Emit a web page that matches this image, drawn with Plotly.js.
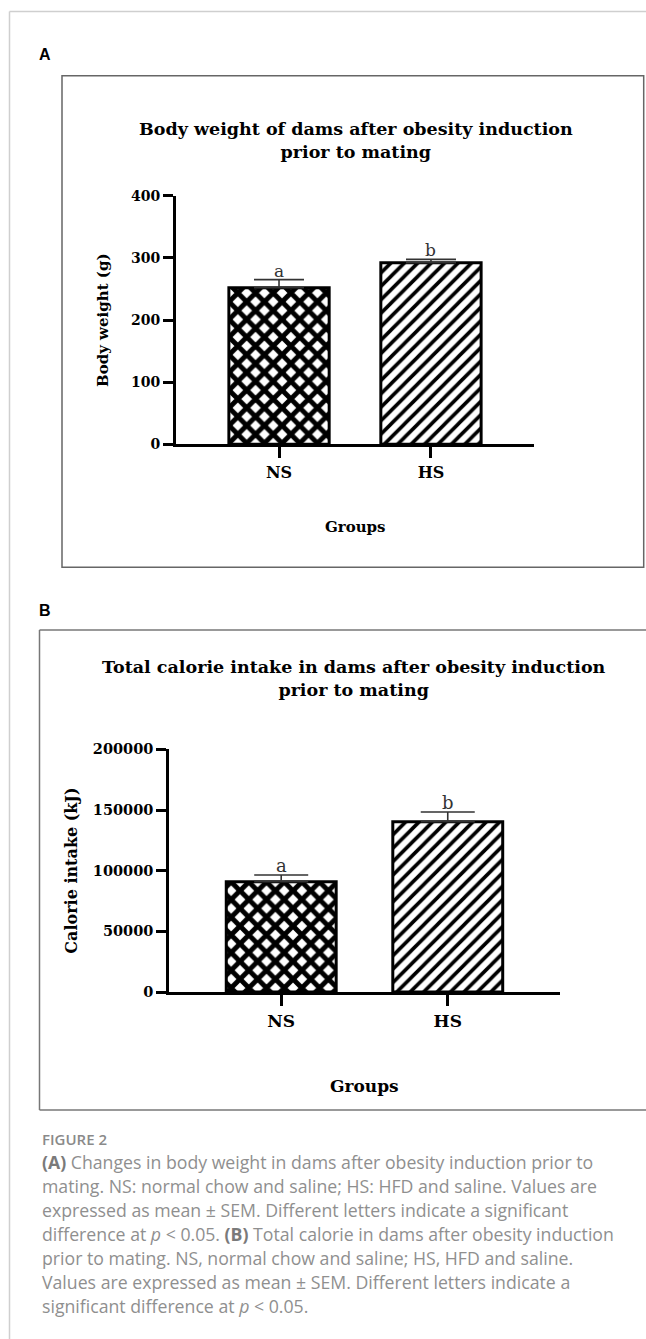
<!DOCTYPE html>
<html>
<head>
<meta charset="utf-8">
<script src="https://cdn.plot.ly/plotly-3.0.1.min.js"></script>
<style>
html,body{margin:0;padding:0;background:#fff;}
#chart{width:646px;height:1339px;}
</style>
</head>
<body>
<div id="chart"></div>
<script>
// ---------- data ----------
const groups = ["NS", "HS"];
const bodyWeight = [252, 292];
const bodyWeightSEM = [13, 5.5];
const bodyWeightLetters = ["a", "b"];
const calorieIntake = [91000, 140400];
const calorieIntakeSEM = [5500, 8000];
const calorieLetters = ["a", "b"];
const weightTicks = [0, 100, 200, 300, 400];
const calorieTicks = [0, 50000, 100000, 150000, 200000];

const titleA = "Body weight of dams after obesity induction<br>prior to mating";
const titleB = "Total calorie intake in dams after obesity induction<br>prior to mating";
const yTitleA = "Body weight (g)";
const yTitleB = "Calorie intake (kJ)";
const xTitle = "Groups";
const captionHead = "FIGURE 2";
const captionLines = [
  "<b>(A)</b> Changes in body weight in dams after obesity induction prior to",
  "mating. NS: normal chow and saline; HS: HFD and saline. Values are",
  "expressed as mean ± SEM. Different letters indicate a significant",
  "difference at <i>p</i> < 0.05. <b>(B)</b> Total calorie in dams after obesity induction",
  "prior to mating. NS, normal chow and saline; HS, HFD and saline.",
  "Values are expressed as mean ± SEM. Different letters indicate a",
  "significant difference at <i>p</i> < 0.05."
];

// ---------- page geometry helpers (pixels -> paper) ----------
const W = 646, H = 1339;
const fx = x => x / W;
const fy = y => 1 - y / H;

const SERIF = "DejaVu Serif, Liberation Serif, serif";
const SANS = "Open Sans, Noto Sans, sans-serif";

function barTrace(vals, sems, xa, ya, capHalf) {
  return {
    type: "bar",
    x: groups,
    y: vals,
    xaxis: xa, yaxis: ya,
    width: 0.66,
    marker: {
      color: "white",
      line: {color: "black", width: 3},
      pattern: {
        shape: ["x", "/"],
        fgcolor: "black",
        bgcolor: "white",
        size: [12.5, 9.5],
        solidity: [0.64, 0.38],
        fillmode: "replace"
      }
    },
    error_y: {
      type: "data", symmetric: false,
      array: sems, arrayminus: sems.map(() => 0),
      color: "#333", thickness: 1.6, width: capHalf
    },
    hoverinfo: "skip",
    showlegend: false
  };
}

const axisCommon = {
  showline: true, linewidth: 3, linecolor: "black",
  ticks: "outside", tickwidth: 3, tickcolor: "black",
  showgrid: false, zeroline: false, fixedrange: true
};

const annotations = [];
function addText(text, x, y, size, opts) {
  annotations.push(Object.assign({
    text: text, xref: "paper", yref: "paper",
    x: fx(x), y: fy(y), xanchor: "center", yanchor: "middle",
    showarrow: false,
    font: {family: SERIF, size: size, color: "black", weight: "bold"}
  }, opts || {}));
}

// panel titles
addText(titleA, 355.5, 140, 17.5, {});
addText(titleB, 354, 678, 17.5, {});
// axis titles
addText(yTitleA, 103, 320, 15, {textangle: -90});
addText(yTitleB, 72, 870.7, 16, {textangle: -90});
addText(xTitle, 355, 527, 15, {});
addText(xTitle, 364.6, 1086, 17, {});
// panel letters
const LETTERFONT = {family: "Liberation Sans, Arial, sans-serif", size: 16, color: "black", weight: "bold"};
addText("A", 45.5, 54, 16, {font: LETTERFONT});
addText("B", 45.5, 610, 16, {font: LETTERFONT});

// significance letters (data coords)
groups.forEach((g, i) => {
  annotations.push({
    text: bodyWeightLetters[i], xref: "x", yref: "y",
    x: g, y: bodyWeight[i] + bodyWeightSEM[i],
    yanchor: "bottom", showarrow: false, yshift: -3,
    font: {family: SERIF, size: 17, color: "#333"}
  });
  annotations.push({
    text: calorieLetters[i], xref: "x2", yref: "y2",
    x: g, y: calorieIntake[i] + calorieIntakeSEM[i],
    yanchor: "bottom", showarrow: false, yshift: -3,
    font: {family: SERIF, size: 18, color: "#333"}
  });
});

// caption
annotations.push({
  text: captionHead, xref: "paper", yref: "paper",
  x: fx(39.5), y: fy(1139), xanchor: "left", yanchor: "middle",
  showarrow: false, font: {family: SANS, size: 15, color: "#8a8a8a", weight: 600}
});
captionLines.forEach((t, i) => {
  annotations.push({
    text: t.replace(/<b>/g, "<b style='color:#7a7a7a'>"),
    xref: "paper", yref: "paper",
    x: fx(39.5), y: fy(1162 + i * 24), xanchor: "left", yanchor: "middle",
    showarrow: false, font: {family: SANS, size: 17.7, color: "#8f8f8f"}
  });
});

const shapes = [
  // page border (left and top)
  {type: "line", xref: "paper", yref: "paper", x0: fx(9.5), x1: fx(9.5), y0: fy(11.5), y1: fy(1339), line: {color: "#cfcfcf", width: 1.5}},
  {type: "line", xref: "paper", yref: "paper", x0: fx(9.5), x1: fx(646), y0: fy(11.5), y1: fy(11.5), line: {color: "#cfcfcf", width: 1.5}},
  // panel A frame
  {type: "rect", xref: "paper", yref: "paper", x0: fx(62), x1: fx(643.7), y0: fy(567.3), y1: fy(75.7), line: {color: "#666", width: 1.5}},
  // panel B frame (right side open, beyond page)
  {type: "line", xref: "paper", yref: "paper", x0: fx(39.5), x1: fx(646), y0: fy(630), y1: fy(630), line: {color: "#777", width: 1.5}},
  {type: "line", xref: "paper", yref: "paper", x0: fx(39.5), x1: fx(646), y0: fy(1110), y1: fy(1110), line: {color: "#777", width: 1.5}},
  {type: "line", xref: "paper", yref: "paper", x0: fx(39.5), x1: fx(39.5), y0: fy(630), y1: fy(1110), line: {color: "#777", width: 1.5}}
];

const layout = {
  width: W, height: H,
  margin: {l: 0, r: 0, t: 0, b: 0, pad: 0},
  paper_bgcolor: "white", plot_bgcolor: "rgba(0,0,0,0)",
  showlegend: false,
  xaxis: Object.assign({}, axisCommon, {
    domain: [fx(176), fx(534)], range: [-0.678, 1.678], anchor: "y",
    type: "category", ticklen: 11,
    tickfont: {family: SERIF, size: 16, color: "black", weight: "bold"}
  }),
  yaxis: Object.assign({}, axisCommon, {
    domain: [fy(444.3), fy(195.7)], range: [0, 400], anchor: "x",
    tickvals: weightTicks, ticklen: 10,
    tickfont: {family: SERIF, size: 14, color: "black", weight: "bold"}
  }),
  xaxis2: Object.assign({}, axisCommon, {
    domain: [fx(169.3), fx(560)], range: [-0.672, 1.674], anchor: "y2",
    type: "category", ticklen: 11,
    tickfont: {family: SERIF, size: 17, color: "black", weight: "bold"}
  }),
  yaxis2: Object.assign({}, axisCommon, {
    domain: [fy(992.1), fy(749.3)], range: [0, 200000], anchor: "x2",
    tickvals: calorieTicks, tickformat: "d", ticklen: 10,
    tickfont: {family: SERIF, size: 14.5, color: "black", weight: "bold"}
  }),
  annotations: annotations,
  shapes: shapes
};

Plotly.newPlot("chart", [
  barTrace(bodyWeight, bodyWeightSEM, "x", "y", 25),
  barTrace(calorieIntake, calorieIntakeSEM, "x2", "y2", 27)
], layout, {staticPlot: true, displayModeBar: false});
</script>
</body>
</html>
